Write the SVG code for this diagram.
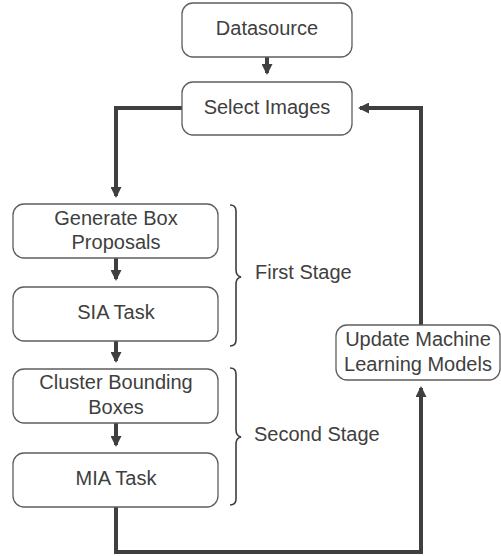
<svg xmlns="http://www.w3.org/2000/svg" width="501" height="556" viewBox="0 0 501 556">
<style>
.box{fill:#fff;stroke:#5e5e5e;stroke-width:1.3}
.t{font-family:"Liberation Sans",Arial,sans-serif;font-size:20px;fill:#404040;text-anchor:middle}
.tl{font-family:"Liberation Sans",Arial,sans-serif;font-size:20px;fill:#404040}
.c{fill:none;stroke:#3f3f3f;stroke-width:4}
.br{fill:none;stroke:#3f3f3f;stroke-width:1.6}
</style>
<defs>
<marker id="ah" markerWidth="11" markerHeight="11" refX="9" refY="5.5" orient="auto" markerUnits="userSpaceOnUse">
<path d="M0,0 L11,5.5 L0,11 z" fill="#3f3f3f"/>
</marker>
</defs>
<g id="connectors">
<path class="c" d="M267,57 V73" marker-end="url(#ah)"/>
<path class="c" d="M182,108 H116 V196" marker-end="url(#ah)"/>
<path class="c" d="M116,258 V279" marker-end="url(#ah)"/>
<path class="c" d="M116,341 V361" marker-end="url(#ah)"/>
<path class="c" d="M116,423 V445" marker-end="url(#ah)"/>
<path class="c" d="M116,507 V552 H421 V388" marker-end="url(#ah)"/>
<path class="c" d="M421,325 V108 H360" marker-end="url(#ah)"/>
</g>
<g id="datasource"><rect class="box" x="182" y="3" width="170" height="54" rx="11"/><text class="t" x="267" y="35">Datasource</text></g>
<g id="select-images"><rect class="box" x="182" y="82" width="170" height="53" rx="11"/><text class="t" x="267" y="114">Select Images</text></g>
<g id="generate-box-proposals"><rect class="box" x="13" y="204" width="205" height="54" rx="11"/><text class="t" x="116" y="225">Generate Box</text><text class="t" x="116" y="249">Proposals</text></g>
<g id="sia-task"><rect class="box" x="13" y="287" width="205" height="54" rx="11"/><text class="t" x="116" y="319">SIA Task</text></g>
<g id="cluster-bounding-boxes"><rect class="box" x="13" y="369" width="205" height="54" rx="11"/><text class="t" x="116" y="389">Cluster Bounding</text><text class="t" x="116" y="414">Boxes</text></g>
<g id="mia-task"><rect class="box" x="13" y="453" width="205" height="54" rx="11"/><text class="t" x="116" y="485">MIA Task</text></g>
<g id="update-models"><rect class="box" x="336" y="325" width="164" height="55" rx="11"/><text class="t" x="418" y="346">Update Machine</text><text class="t" x="418" y="371">Learning Models</text></g>
<g id="first-stage"><path class="br" d="M230,205 Q236,205 236,211 V270 Q236,276 241,277 Q236,278 236,284 V340 Q236,346 230,346"/><text class="tl" x="255" y="279">First Stage</text></g>
<g id="second-stage"><path class="br" d="M230,368 Q236,368 236,374 V430 Q236,436 241,437 Q236,438 236,444 V499 Q236,505 230,505"/><text class="tl" x="254" y="441">Second Stage</text></g>
</svg>
